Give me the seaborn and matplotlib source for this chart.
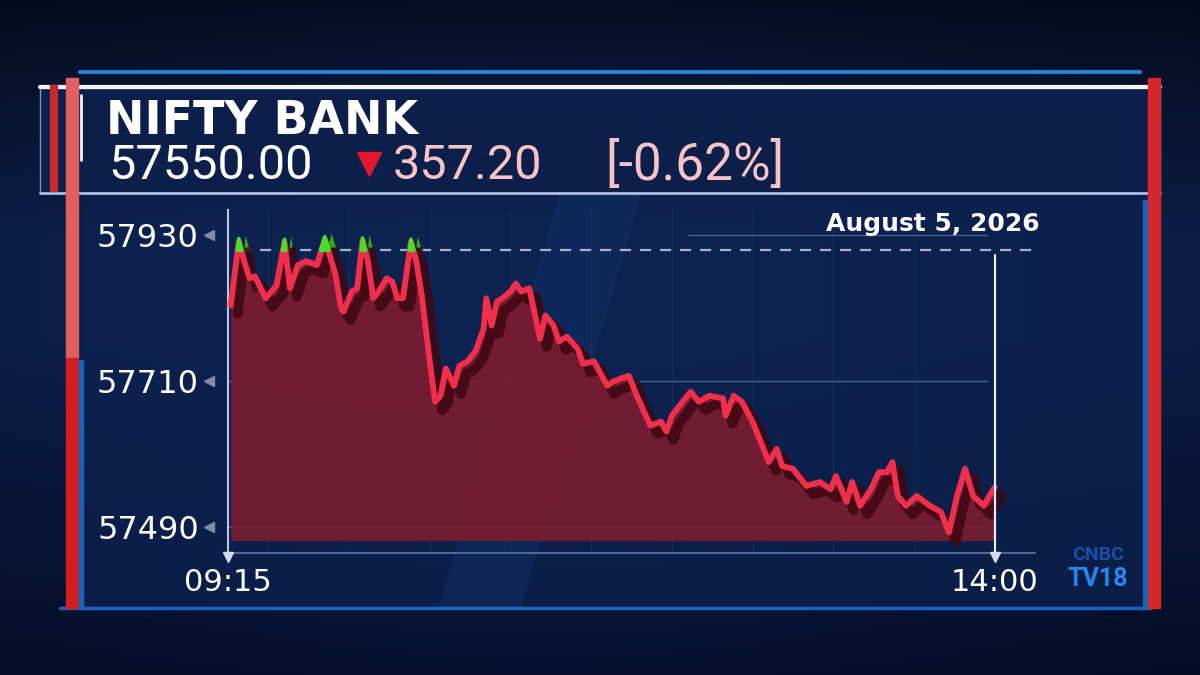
import numpy as np
import pandas as pd
import matplotlib
matplotlib.use('Agg')
import matplotlib.pyplot as plt
import matplotlib.patheffects as pe
from matplotlib.patches import Rectangle, Polygon
import seaborn as sns

# intraday NIFTY BANK ticks
times = ['09:16', '09:19', '09:21', '09:23', '09:25', '09:29', '09:33', '09:36', '09:38', '09:41',
         '09:44', '09:48', '09:51', '09:55', '09:57', '09:58', '10:01', '10:03', '10:05', '10:07',
         '10:09', '10:11', '10:14', '10:16', '10:18', '10:20', '10:23', '10:25', '10:27', '10:30',
         '10:32', '10:34', '10:36', '10:39', '10:41', '10:44', '10:47', '10:50', '10:51', '10:53',
         '10:55', '10:57', '11:00', '11:02', '11:04', '11:07', '11:11', '11:13', '11:16', '11:18',
         '11:21', '11:25', '11:27', '11:31', '11:36', '11:38', '11:41', '11:44', '11:47', '11:52',
         '11:56', '11:58', '12:00', '12:04', '12:07', '12:10', '12:14', '12:19', '12:20', '12:23',
         '12:26', '12:30', '12:33', '12:36', '12:39', '12:41', '12:45', '12:50', '12:55', '12:59',
         '13:01', '13:05', '13:07', '13:10', '13:14', '13:17', '13:20', '13:22', '13:24', '13:27',
         '13:31', '13:36', '13:40', '13:43', '13:46', '13:49', '13:52', '13:56', '13:58', '14:00']
values = [57824, 57921, 57891, 57865, 57868, 57835, 57854, 57920, 57850, 57885,
          57891, 57885, 57924, 57870, 57820, 57815, 57845, 57850, 57922, 57891,
          57835, 57845, 57865, 57860, 57835, 57835, 57920, 57891, 57840, 57740,
          57679, 57688, 57729, 57703, 57733, 57740, 57755, 57789, 57835, 57794,
          57830, 57835, 57845, 57857, 57845, 57850, 57774, 57809, 57794, 57770,
          57777, 57759, 57736, 57740, 57703, 57709, 57714, 57718, 57688, 57643,
          57649, 57634, 57658, 57679, 57694, 57679, 57688, 57684, 57658, 57688,
          57679, 57649, 57619, 57588, 57608, 57582, 57578, 57552, 57558, 57547,
          57567, 57528, 57558, 57522, 57547, 57573, 57573, 57588, 57537, 57522,
          57537, 57522, 57513, 57482, 57537, 57578, 57537, 57522, 57537, 57550]

index_name = 'NIFTY BANK'
last_price = 57550.00
change = -357.20
pct_change = -0.62
prev_close = last_price - change
y_ticks = [57490, 57710, 57930]
x_ticks = ['09:15', '14:00']
date_label = 'August 5, 2026'

sns.set_style('dark')
plt.rcParams['font.family'] = ['Roboto', 'DejaVu Sans']
wide = ['DejaVu Sans']


def to_minutes(t):
    h, m = map(int, t.split(':'))
    return (h - 9) * 60 + (m - 15)


df = pd.DataFrame({'minute': [to_minutes(t) for t in times], 'value': values})

fig = plt.figure(figsize=(12, 6.75), dpi=100)

# background / frame layer in pixel coordinates
bg = fig.add_axes([0, 0, 1, 1])
bg.set_xlim(0, 1200)
bg.set_ylim(675, 0)
bg.axis('off')

ys = np.linspace(0, 1, 300)
xs = np.linspace(0, 1, 400)
top = np.array([0.02, 0.05, 0.13])
mid = np.array([0.05, 0.13, 0.30])
low = np.array([0.02, 0.06, 0.17])
col = np.where(ys[:, None] < 0.5,
               top + (mid - top) * np.clip(ys[:, None] / 0.35, 0, 1),
               mid + (low - mid) * np.clip((ys[:, None] - 0.5) / 0.5, 0, 1))
img = col[:, None, :] * (0.85 + 0.25 * np.exp(-((xs[None, :, None] - 0.45) / 0.4) ** 2))
bg.imshow(np.clip(img, 0, 1), extent=[0, 1200, 675, 0], aspect='auto', zorder=0)

# chart panel and header panel
bg.add_patch(Rectangle((84, 196), 1062, 411, color='#0c2250', alpha=0.75, zorder=1))
bg.add_patch(Polygon([(560, 196), (640, 196), (520, 607), (440, 607)], color='#1b3d7a',
                     alpha=0.25, zorder=1))
bg.add_patch(Rectangle((40, 88), 1120, 105, facecolor='#0b1f4a', edgecolor='#7f93bd',
                       lw=1, zorder=1))
bg.plot([80, 1140], [72, 72], color='#2b7ed6', lw=3, zorder=2)
bg.plot([40, 1160], [87, 87], color='#f2f4fa', lw=3, zorder=3)
bg.plot([40, 1160], [193, 193], color='#a9bde6', lw=2, zorder=3)
bg.plot([60, 1150], [608, 608], color='#1d62bf', lw=2.5, zorder=3)
bg.plot([81, 81], [95, 160], color='#f2f4fa', lw=2, zorder=3)

# red side bars
bg.add_patch(Rectangle((50, 85), 7, 106, color='#c72a2e', zorder=3))
bg.add_patch(Rectangle((66, 78), 12, 280, color='#e06060', zorder=3))
bg.add_patch(Rectangle((66, 358), 12, 250, color='#cf1f22', zorder=3))
bg.add_patch(Rectangle((79, 360), 4, 248, color='#1a64b8', zorder=3))
bg.add_patch(Rectangle((1148, 78), 12, 530, color='#d4282c', zorder=3))
bg.add_patch(Rectangle((1143, 200), 4, 408, color='#1a64b8', zorder=3))

# header texts
bg.text(106, 121, index_name, color='white', fontsize=33, fontweight='bold',
        family=wide, va='center', zorder=4)
bg.text(108, 166, f'{last_price:.2f}', color='white', fontsize=35, va='center', zorder=4)
bg.plot([369], [164], marker='v', markersize=17, color='#e3182a', zorder=4)
bg.text(393, 166, f'{abs(change):.2f}', color='#f6c4c4', fontsize=35, va='center', zorder=4)
bg.text(605, 166, f'[{pct_change:.2f}%]', color='#f6c4c4', fontsize=37, va='center', zorder=4)

# logo
bg.text(1098, 555, 'CNBC', color='#1b4da6', fontsize=14, fontweight='bold', ha='center',
        va='center', zorder=4)
bg.text(1098, 579, 'TV18', color='#2088ee', fontsize=18, fontweight='bold', ha='center',
        va='center', zorder=4)

# main chart axes
ax = fig.add_axes([228 / 1200, 1 - 553 / 675, 807 / 1200, 343 / 675])
ax.set_facecolor('none')
ax.set_xlim(0, 300)
ax.set_ylim(57451, 57968)

# grid
for m in range(15, 285, 30):
    ax.axvline(m, color='#1d3a6e', lw=1, alpha=0.45, zorder=1)
ax.axhline(57710, xmin=0, xmax=0.94, color='#47608f', lw=1, zorder=1)
ax.axhline(57490, xmin=0, xmax=0.94, color='#47608f', lw=1, zorder=1)
ax.axhline(57930, xmin=0.57, xmax=0.94, color='#47608f', lw=1, zorder=1)

# area + line with a faux extrusion
ax.fill_between(df['minute'], df['value'], 57470, color='#7a1c30', alpha=0.92, lw=0, zorder=2)
sns.lineplot(data=df, x='minute', y='value', ax=ax, color='#ef2f4b', lw=4.2, zorder=4,
             path_effects=[pe.SimpleLineShadow(offset=(5, -6), shadow_color='#3e0712', alpha=0.85,
                                               linewidth=7),
                           pe.Normal()])
# green caps where the index traded above the previous close
ax.fill_between(df['minute'], df['value'] + 4, prev_close, where=df['value'] > prev_close,
                interpolate=True, facecolor='#46e02a', edgecolor='#46e02a', lw=2.5, zorder=5,
                path_effects=[pe.SimplePatchShadow(offset=(5, 2), shadow_rgbFace='#2fa81e',
                                                   alpha=1), pe.Normal()])

ax.axhline(prev_close, xmin=0.015, color='#a7b2c9', lw=1.6, ls=(0, (5, 4)), zorder=3)
ax.axvline(285, ymin=0, ymax=0.87, color='#e8ecf5', lw=1.6, zorder=6)

# axes styling
for s in ['top', 'right']:
    ax.spines[s].set_visible(False)
ax.spines['left'].set_color('#b9c6e2')
ax.spines['left'].set_linewidth(1.5)
ax.spines['bottom'].set_color('#5d76a8')
ax.spines['bottom'].set_linewidth(1.2)

ax.set_yticks(y_ticks)
ax.set_yticklabels([str(v) for v in y_ticks], color='white', fontsize=23, family=wide)
ax.set_yticks(np.arange(57490, 57968, 44), minor=True)
ax.tick_params(axis='y', which='major', length=0, pad=21)
ax.tick_params(axis='y', which='minor', direction='in', length=7, color='#8193bb', width=1)
ax.set_xticks([to_minutes(t) for t in x_ticks])
ax.set_xticklabels(x_ticks, color='white', fontsize=22, family=wide)
ax.set_xticks(np.arange(0, 290, 10), minor=True)
ax.tick_params(axis='x', which='major', length=0, pad=11)
ax.tick_params(axis='x', which='minor', direction='in', length=8, color='#4c6698', width=1)
ax.set_xlabel('')
ax.set_ylabel('')
ax.grid(False)

# little pointers next to the tick labels
ax.plot([-7] * len(y_ticks), y_ticks, ls='none', marker='<', markersize=7, color='#7d8cac',
        clip_on=False, zorder=6)
ax.plot([to_minutes(t) for t in x_ticks], [57445] * len(x_ticks), ls='none', marker='v',
        markersize=7, color='#d5dcec', clip_on=False, zorder=6)

ax.text(1.006, 0.96, date_label, transform=ax.transAxes, color='white', fontsize=18,
        fontweight='bold', family=wide, ha='right', va='center', zorder=6)

fig.savefig('out.png', dpi=100)
